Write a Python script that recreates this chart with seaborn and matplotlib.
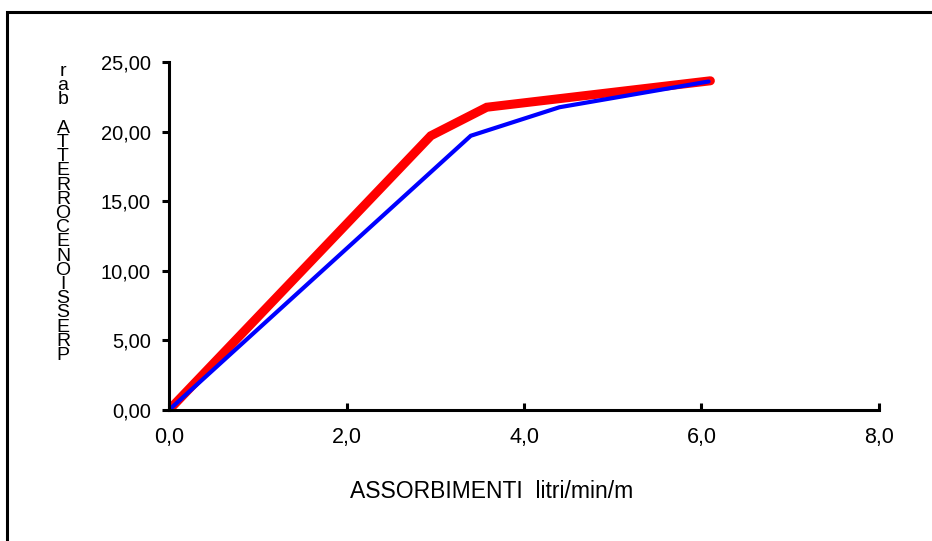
import matplotlib
matplotlib.use('Agg')
import matplotlib.pyplot as plt
import matplotlib.patches as patches
import pandas as pd
import seaborn as sns

# data
blue_x = [0.0, 3.40, 4.40, 6.08]
blue_y = [0.0, 19.70, 21.75, 23.60]
red_x = [0.0, 2.95, 3.58, 6.10]
red_y = [0.0, 19.70, 21.75, 23.65]

x_ticks = [0, 2, 4, 6, 8]
x_labels = ['0,0', '2,0', '4,0', '6,0', '8,0']
y_ticks = [0, 5, 10, 15, 20, 25]
y_labels = ['0,00', '5,00', '10,00', '15,00', '20,00', '25,00']

x_title = 'ASSORBIMENTI  litri/min/m'
y_title = 'PRESSIONE CORRETTA bar'

sns.set_style('white')
plt.rcParams['font.family'] = ['Liberation Sans', 'DejaVu Sans']

W, H = 932, 541
fig = plt.figure(figsize=(W / 100, H / 100), dpi=100)
ax = fig.add_axes([169 / W, (H - 410) / H, 710 / W, 348 / H])

df_red = pd.DataFrame({'x': red_x, 'y': red_y})
df_blue = pd.DataFrame({'x': blue_x, 'y': blue_y})
sns.lineplot(data=df_red, x='x', y='y', ax=ax, color='#ff0000', linewidth=6.5,
             sort=False, estimator=None, solid_joinstyle='miter')
sns.lineplot(data=df_blue, x='x', y='y', ax=ax, color='#0000ff', linewidth=3,
             sort=False, estimator=None, solid_joinstyle='miter')

ax.set_xlim(0, 8)
ax.set_ylim(0, 25)
ax.set_xticks(x_ticks)
ax.set_xticklabels(x_labels)
ax.set_yticks(y_ticks)
ax.set_yticklabels(y_labels)

for side in ['top', 'right']:
    ax.spines[side].set_visible(False)
for side in ['left', 'bottom']:
    ax.spines[side].set_color('black')
    ax.spines[side].set_linewidth(2.2)

ax.tick_params(axis='x', direction='in', length=5, width=2.2, pad=12,
               labelsize=15.5, colors='black')
ax.tick_params(axis='y', direction='out', length=5, width=2.2, pad=8,
               labelsize=14.5, colors='black')
ax.tick_params(left=True, bottom=True)

ax.set_xlabel(x_title, fontsize=16.5, color='black', va='center')
ax.xaxis.set_label_coords((492 - 169) / 710, (410 - 492) / 348)
ax.set_ylabel('')

# stacked vertical axis title, letters running bottom to top
stacked = '\n'.join(reversed(y_title.replace(' ', '')[:-3] + ' ' + y_title[-3:]))
fig.text(63 / W, 1 - 63 / H, stacked, fontsize=14, ha='center', va='top',
         linespacing=0.785, color='black')

ax.grid(False)

# outer frame (open at right and bottom)
frame = patches.Rectangle((7 / W, -0.2), 1.2, 0.2 + (H - 12) / H,
                          transform=fig.transFigure, fill=False,
                          edgecolor='black', linewidth=2.2, clip_on=False)
fig.patches.append(frame)

fig.savefig('out.png', dpi=100)
